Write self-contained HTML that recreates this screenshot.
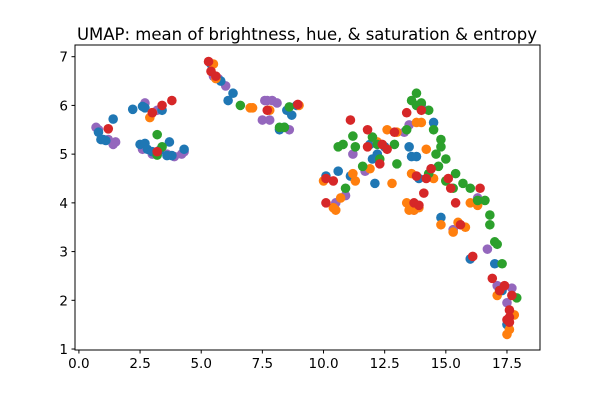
<!DOCTYPE html>
<html><head><meta charset="utf-8"><style>
body{margin:0;background:#fff;}
svg{display:block;font-family:"DejaVu Sans","Liberation Sans",sans-serif;}
</style></head><body>
<svg id="chart" width="600" height="400" xmlns="http://www.w3.org/2000/svg">
<rect width="600" height="400" fill="#fff"/>
<text x="307" y="40" font-size="16.5" text-anchor="middle" fill="#000">UMAP: mean of brightness, hue, &amp; saturation &amp; entropy</text>
<g id="points"></g>
<g id="axes"></g>
</svg>
<script>
const xTicks=[0,2.5,5,7.5,10,12.5,15,17.5];
const xTickLabels=["0.0","2.5","5.0","7.5","10.0","12.5","15.0","17.5"];
const yTicks=[1,2,3,4,5,6,7];
const yTickLabels=["1","2","3","4","5","6","7"];
const seriesNames=["purple","blue","orange","green","red"];
const purplePts=[[0.7,5.55],[0.8,5.5],[1.2,5.3],[1.5,5.25],[1.4,5.2],[2.7,6.05],[3.2,5.9],[2.6,5.1],[3.0,5.0],[3.6,5.0],[3.9,4.95],[4.2,5.0],[4.3,5.05],[5.5,6.6],[5.7,6.55],[6.0,6.4],[7.5,5.7],[7.6,6.1],[7.7,6.1],[7.9,6.1],[8.1,6.05],[7.8,5.7],[8.6,5.5],[10.5,4.0],[10.9,4.15],[11.2,5.0],[11.7,4.65],[13.5,5.6],[13.7,3.85],[14.0,6.0],[14.4,4.7],[15.3,3.45],[16.3,4.1],[16.0,2.85],[16.7,3.05],[17.1,2.3],[17.7,2.25],[17.5,1.95],[13.3,5.45]];
const bluePts=[[0.8,5.45],[0.9,5.3],[1.0,5.3],[1.1,5.28],[1.4,5.72],[2.2,5.92],[2.6,5.98],[2.7,5.95],[3.4,5.9],[2.5,5.2],[2.7,5.22],[2.8,5.1],[3.0,5.05],[3.3,5.08],[3.7,5.25],[3.8,4.97],[4.3,5.1],[3.6,4.97],[5.4,6.85],[5.8,6.5],[6.1,6.1],[6.3,6.25],[8.2,5.5],[8.5,5.9],[8.7,5.8],[8.9,6.0],[8.4,5.55],[10.1,4.55],[10.6,4.65],[11.1,4.55],[11.9,5.2],[12.1,4.4],[12.2,5.0],[12.5,5.15],[13.5,5.15],[13.6,4.95],[13.8,4.95],[14.5,5.65],[13.9,4.5],[14.8,3.7],[16.0,2.85],[17.0,2.75],[17.3,2.2],[17.5,1.5],[12.0,4.9]];
const orangePts=[[2.9,5.75],[3.0,5.85],[5.5,6.85],[5.6,6.55],[7.0,5.95],[7.1,5.95],[7.8,5.9],[9.0,6.0],[10.0,4.45],[10.4,3.9],[10.5,3.85],[10.7,4.1],[11.3,4.45],[11.2,4.6],[11.9,4.7],[12.8,4.4],[12.2,5.25],[12.6,5.5],[13.0,5.45],[13.4,4.0],[13.5,3.85],[13.7,3.85],[13.6,4.6],[13.8,5.65],[14.0,5.65],[14.2,5.1],[14.8,3.55],[15.0,4.45],[15.3,3.4],[15.5,3.6],[15.8,3.5],[16.0,4.0],[16.3,3.95],[17.1,2.1],[17.5,1.3],[17.6,1.4],[17.8,1.7],[14.5,4.5],[13.9,3.9]];
const greenPts=[[3.2,5.4],[3.4,5.15],[3.2,4.98],[6.6,6.0],[8.6,5.97],[8.2,5.55],[8.4,5.55],[10.6,5.15],[10.8,5.2],[11.2,5.37],[11.3,5.15],[10.9,4.3],[11.6,4.75],[12.0,5.35],[12.2,5.2],[12.9,5.2],[13.4,5.5],[13.6,6.1],[13.8,6.25],[13.8,6.0],[14.0,6.05],[14.3,5.9],[14.5,5.5],[14.8,5.3],[14.8,5.15],[14.6,5.0],[14.3,4.6],[13.0,4.8],[14.7,4.75],[15.0,4.9],[15.4,4.6],[15.0,4.45],[15.7,4.4],[16.0,4.3],[16.3,4.05],[16.6,4.05],[16.8,3.75],[16.8,3.55],[17.0,3.2],[17.1,3.15],[17.3,2.75],[17.2,2.2],[17.9,2.05],[15.3,4.3],[12.3,4.9]];
const redPts=[[1.2,5.52],[3.0,5.85],[3.4,6.0],[3.8,6.1],[3.2,5.05],[5.3,6.9],[5.4,6.7],[5.6,6.6],[7.7,5.9],[8.95,6.02],[11.1,5.7],[10.1,4.5],[10.4,4.45],[10.1,4.0],[11.8,5.5],[11.8,5.15],[12.3,4.8],[12.4,5.2],[12.6,5.1],[12.9,5.45],[13.4,5.85],[13.8,4.55],[13.7,4.0],[14.1,4.2],[14.2,4.5],[14.0,5.9],[14.4,4.7],[15.2,4.3],[15.6,3.55],[15.4,4.0],[16.1,2.9],[16.4,4.3],[16.9,2.45],[17.2,2.2],[17.4,2.3],[17.7,2.1],[17.6,1.8],[17.6,1.65],[17.5,1.6],[17.6,1.55],[13.9,3.95],[15.1,4.5]];

const NS="http://www.w3.org/2000/svg";
const L=75,R=540,T=45,B=350;
const x0=-0.16,x1=18.85,y0=0.98,y1=7.24;
function sx(v){return L+(v-x0)/(x1-x0)*(R-L);}
function sy(v){return B-(v-y0)/(y1-y0)*(B-T);}
const colors={purple:"#9467bd",blue:"#1f77b4",orange:"#ff7f0e",green:"#2ca02c",red:"#d62728"};
const allSeries=[purplePts,bluePts,orangePts,greenPts,redPts];
const pg=document.getElementById('points');
allSeries.forEach((pts,si)=>{
  pts.forEach((p,i)=>{
    const c=document.createElementNS(NS,'circle');
    c.setAttribute('cx',sx(p[0]));c.setAttribute('cy',sy(p[1]));c.setAttribute('r',4.8);
    c.setAttribute('fill',colors[seriesNames[si]]);
    
    
    pg.appendChild(c);
  });
});
const ag=document.getElementById('axes');
const frame=document.createElementNS(NS,'rect');
frame.setAttribute('x',L);frame.setAttribute('y',T);frame.setAttribute('width',R-L);frame.setAttribute('height',B-T);
frame.setAttribute('fill','none');frame.setAttribute('stroke','#000');frame.setAttribute('stroke-width','1');


ag.appendChild(frame);
xTicks.forEach((v,i)=>{
  const ln=document.createElementNS(NS,'line');
  ln.setAttribute('x1',sx(v));ln.setAttribute('x2',sx(v));ln.setAttribute('y1',B);ln.setAttribute('y2',B+3.5);ln.setAttribute('stroke','#000');
  
  
  ag.appendChild(ln);
  const t=document.createElementNS(NS,'text');
  t.setAttribute('x',sx(v));t.setAttribute('y',B+18);t.setAttribute('font-size','13.5');t.setAttribute('text-anchor','middle');
  t.textContent=xTickLabels[i];
  
  
  ag.appendChild(t);
});
yTicks.forEach((v,i)=>{
  const ln=document.createElementNS(NS,'line');
  ln.setAttribute('x1',L-3.5);ln.setAttribute('x2',L);ln.setAttribute('y1',sy(v));ln.setAttribute('y2',sy(v));ln.setAttribute('stroke','#000');
  
  
  ag.appendChild(ln);
  const t=document.createElementNS(NS,'text');
  t.setAttribute('x',L-7);t.setAttribute('y',sy(v)+5);t.setAttribute('font-size','13.5');t.setAttribute('text-anchor','end');
  t.textContent=yTickLabels[i];
  
  
  ag.appendChild(t);
});
</script>
</body></html>
